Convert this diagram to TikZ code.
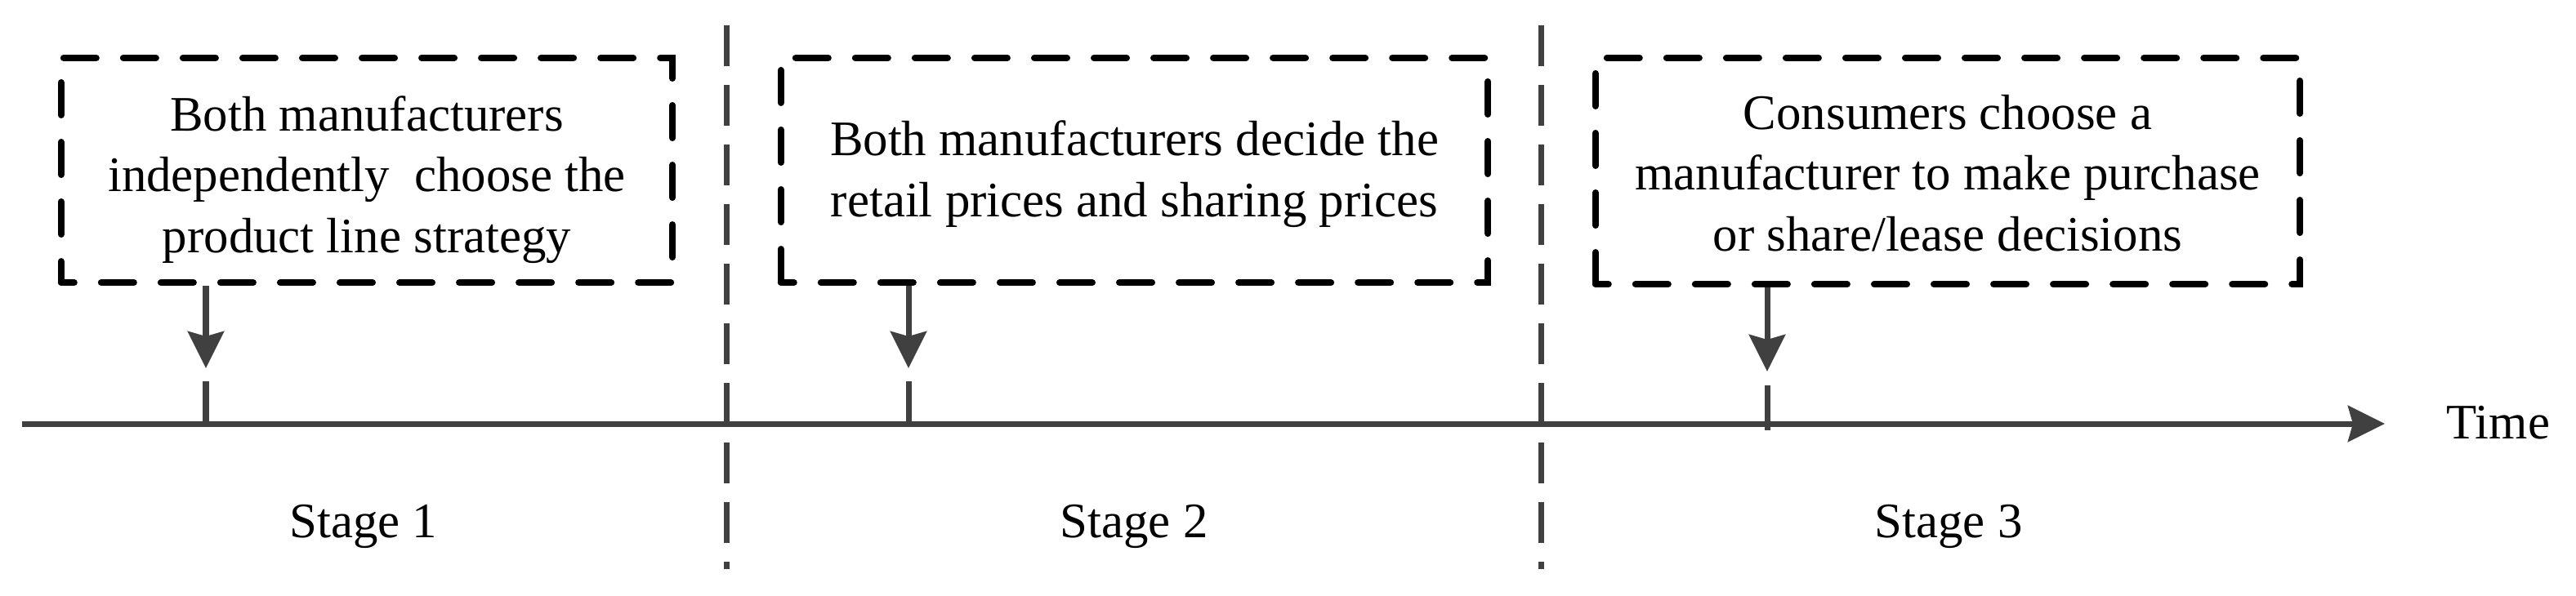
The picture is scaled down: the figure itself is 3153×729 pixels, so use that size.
\documentclass[tikz,border=0pt]{standalone}
\usepackage{fontspec}
\setmainfont{Liberation Serif}
\newfontfamily\tnrfont{Liberation Serif}
\usetikzlibrary{arrows.meta}
\definecolor{linegray}{HTML}{404040}
\begin{document}
\begin{tikzpicture}[x=0.01cm,y=-0.01cm,
  stagebox/.style={draw=black, line width=0.08cm, dash pattern=on 0.40cm off 0.33cm, dash phase=0.24cm, line cap=round, inner sep=0pt},
  boxtext/.style={align=center, font=\tnrfont\fontsize{17.3pt}{21.2pt}\selectfont, inner sep=0pt},
  lbl/.style={font=\tnrfont\fontsize{17.3pt}{21.2pt}\selectfont, inner sep=0pt},
  sepline/.style={draw=linegray, line width=0.07cm, dash pattern=on 0.5cm off 0.23cm},
  evarrow/.style={draw=linegray, fill=linegray, line width=0.07cm, -{Stealth[length=0.45cm,width=0.44cm,inset=0.06cm]}},
  tickline/.style={draw=linegray, line width=0.07cm}
]
\useasboundingbox (0,0) rectangle (3153,729);

% separators
\coordinate (s1a) at (889,31);  \coordinate (s1b) at (889,697);
\coordinate (s2a) at (1886,31); \coordinate (s2b) at (1886,697);
\draw[sepline] (s1a) -- (s1b);
\draw[sepline] (s2a) -- (s2b);

% boxes
\node[stagebox, minimum width=7.48cm, minimum height=2.75cm] (b1) at (449,208.5) {};
\node[stagebox, minimum width=8.65cm, minimum height=2.75cm] (b2) at (1388.5,208.5) {};
\node[stagebox, minimum width=8.62cm, minimum height=2.77cm] (b3) at (2384,209.5) {};

\node[boxtext] (x1) at (449,220) {Both manufacturers\\independently\ \ choose the\\product line strategy};
\node[boxtext] (x2) at (1388.5,213) {Both manufacturers decide the\\retail prices and sharing prices};
\node[boxtext] (x3) at (2384,212) {Consumers choose a\\manufacturer to make purchase\\or share/lease decisions};

% timeline
\coordinate (t0) at (27,519); \coordinate (t1) at (2919,519);
\draw[evarrow] (t0) -- (t1);
\node[lbl, anchor=base west] (time) at (2994,537) {Time};

% event arrows and ticks
\coordinate (a1) at (252,451); \coordinate (k1) at (252,467); \coordinate (m1) at (252,519);
\coordinate (a2) at (1112,451); \coordinate (k2) at (1112,467); \coordinate (m2) at (1112,519);
\coordinate (a3) at (2163,455); \coordinate (k3) at (2163,472); \coordinate (m3) at (2163,527);
\draw[evarrow] (b1.south -| a1) -- (a1);
\draw[evarrow] (b2.south -| a2) -- (a2);
\draw[evarrow] (b3.south -| a3) -- (a3);
\draw[tickline] (k1) -- (m1);
\draw[tickline] (k2) -- (m2);
\draw[tickline] (k3) -- (m3);

% stage labels
\node[lbl, anchor=base] (st1) at (445,658) {Stage 1};
\node[lbl, anchor=base] (st2) at (1388,658) {Stage 2};
\node[lbl, anchor=base] (st3) at (2385,658) {Stage 3};
\end{tikzpicture}
\end{document}
